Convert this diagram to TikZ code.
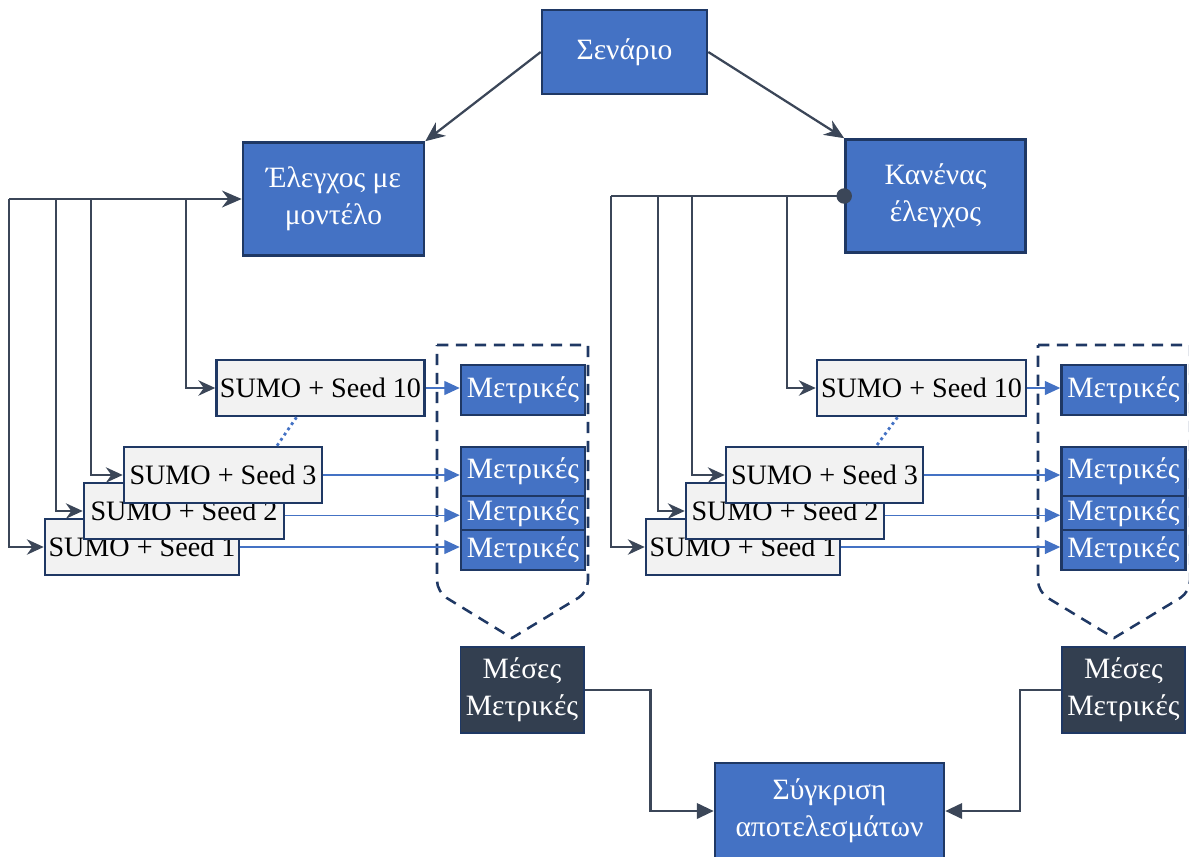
\documentclass[tikz,border=0pt]{standalone}
\usepackage{fontspec}
\setmainfont{Liberation Serif}
\usepackage{xcolor}
\usetikzlibrary{arrows.meta,positioning}
\definecolor{boxblue}{HTML}{4472C4}
\definecolor{navy}{HTML}{1F3864}
\definecolor{slate}{HTML}{333F50}
\definecolor{wire}{HTML}{3B4658}
\definecolor{paper}{HTML}{F2F2F2}

\begin{document}
\begin{tikzpicture}[
    x=0.025cm,y=-0.025cm,
    font=\fontsize{21}{26}\selectfont,
    stage/.style={draw=navy,line width=1.8pt,fill=boxblue,text=white,align=center,inner sep=0pt},
    run/.style={draw=navy,line width=1.8pt,fill=paper,inner sep=0pt,minimum height=1.4cm,font=\fontsize{20}{24}\selectfont},
    metric/.style={draw=navy,line width=1.8pt,fill=boxblue,text=white,inner sep=0pt,minimum width=3.1cm},
    mean/.style={draw=navy,line width=1.4pt,fill=slate,text=white,align=center,inner sep=0pt,minimum width=3.075cm,minimum height=2.15cm},
    feed/.style={draw=wire,line width=1.1pt,-{Stealth[length=12pt,width=11pt]}},
    bus/.style={draw=wire,line width=1.6pt},
    result/.style={draw=boxblue,line width=0.9pt,-{Triangle[length=11pt,width=10pt]}},
    gap/.style={draw=boxblue,line width=2pt,dash pattern=on 2pt off 2.5pt},
    group/.style={draw=navy,line width=1.8pt,dash pattern=on 8pt off 5.5pt},
    >=Stealth
  ]
    \useasboundingbox (0,0) rectangle (1189,856);

    \node[stage,minimum width=4.125cm,minimum height=2.1cm] (scen) at (624.5,52) {Σενάριο};
    \node[stage,minimum width=4.525cm,minimum height=2.825cm] (mod) at (333.5,199) {Έλεγχος με\\μοντέλο};
    \node[stage,minimum width=4.5cm,minimum height=2.825cm] (none) at (935.5,196) {Κανένας\\έλεγχος};

    \draw[bus,-{Stealth[length=14pt,width=12pt]}] (scen.west) -- (mod.north east);
    \draw[bus,-{Stealth[length=14pt,width=12pt]}] (scen.east) -- (none.north west);

    % runs with the controller
    \node[run,minimum width=4.85cm] (ls1) at (142,547) {SUMO + Seed 1};
    \node[run,minimum width=5cm] (ls2) at (184,511) {SUMO + Seed 2};
    \node[run,minimum width=4.95cm] (ls3) at (223,475) {SUMO + Seed 3};
    \node[run,minimum width=5.2cm] (ls10) at (320.5,388) {SUMO + Seed 10};
    \draw[gap] ([xshift=-0.6cm]ls10.south) -- ([xshift=1.35cm]ls3.north);

    \coordinate (la1) at (9,199);
    \coordinate (la2) at (56,199);
    \coordinate (la3) at (91,199);
    \coordinate (la4) at (186,199);
    \draw[bus,-{Stealth[length=14pt,width=12pt]}] (la1) -- (mod.west);
    \draw[feed] (la1) |- (ls1);
    \draw[feed] (la2) |- (ls2);
    \draw[feed] (la3) |- (ls3);
    \draw[feed] (la4) |- (ls10);

    \draw[group] (437,345) -- (588,345) [rounded corners=8pt] -- (588,592) [sharp corners] -- (512,638) [rounded corners=8pt] -- (437,592) [sharp corners] -- cycle;
    \node[metric,minimum height=1.25cm] (lm10) at (523,390) {Μετρικές};
    \node[metric,minimum height=1.225cm] (lm3) at (523,471.5) {Μετρικές};
    \node[metric,minimum height=0.85cm] (lm2) at (523,513) {Μετρικές};
    \node[metric,minimum height=1cm] (lm1) at (523,550) {Μετρικές};
    \draw[result] (ls10.east) -- (ls10.east -| lm10.west);
    \draw[result] (ls3.east) -- (ls3.east -| lm3.west);
    \draw[result] ([yshift=-3pt]ls2.east) -- ([yshift=-3pt]ls2.east -| lm2.west);
    \draw[result] (ls1.east) -- (ls1.east -| lm1.west);

    % runs without control
    \node[run,minimum width=4.85cm] (rs1) at (743,547) {SUMO + Seed 1};
    \node[run,minimum width=4.95cm] (rs2) at (785,511) {SUMO + Seed 2};
    \node[run,minimum width=4.925cm] (rs3) at (824.5,475) {SUMO + Seed 3};
    \node[run,minimum width=5.225cm] (rs10) at (921.5,388) {SUMO + Seed 10};
    \draw[gap] ([xshift=-0.6cm]rs10.south) -- ([xshift=1.3cm]rs3.north);

    \coordinate (ra1) at (611,196);
    \coordinate (ra2) at (658,196);
    \coordinate (ra3) at (692,196);
    \coordinate (ra4) at (787,196);
    \draw[bus,{Circle[length=11pt]}-,shorten <=-5.5pt] (none.west) -- (ra1);
    \draw[feed] (ra1) |- (rs1);
    \draw[feed] (ra2) |- (rs2);
    \draw[feed] (ra3) |- (rs3);
    \draw[feed] (ra4) |- (rs10);

    \draw[group] (1038,345) -- (1190,345) [rounded corners=8pt] -- (1190,592) [sharp corners] -- (1114,638) [rounded corners=8pt] -- (1038,592) [sharp corners] -- cycle;
    \node[metric,minimum height=1.25cm] (rm10) at (1123.5,390) {Μετρικές};
    \node[metric,minimum height=1.225cm] (rm3) at (1123.5,471.5) {Μετρικές};
    \node[metric,minimum height=0.85cm] (rm2) at (1123.5,513) {Μετρικές};
    \node[metric,minimum height=1cm] (rm1) at (1123.5,550) {Μετρικές};
    \draw[result] (rs10.east) -- (rs10.east -| rm10.west);
    \draw[result] (rs3.east) -- (rs3.east -| rm3.west);
    \draw[result] ([yshift=-3pt]rs2.east) -- ([yshift=-3pt]rs2.east -| rm2.west);
    \draw[result] (rs1.east) -- (rs1.east -| rm1.west);

    % averages and comparison
    \node[mean] (lavg) at (522,690) {Μέσες\\Μετρικές};
    \node[mean] (ravg) at (1123.5,690) {Μέσες\\Μετρικές};
    \node[stage,minimum width=5.725cm,minimum height=2.4cm] (cmp) at (829.5,811) {Σύγκριση\\αποτελεσμάτων};

    \draw[bus,-{Triangle[length=12pt,width=11pt]}] (lavg.east) -- ++(66,0) |- (cmp.west);
    \draw[bus,-{Triangle[length=12pt,width=11pt]}] (ravg.west) -- ++(-41,0) |- (cmp.east);
  \end{tikzpicture}
\end{document}
